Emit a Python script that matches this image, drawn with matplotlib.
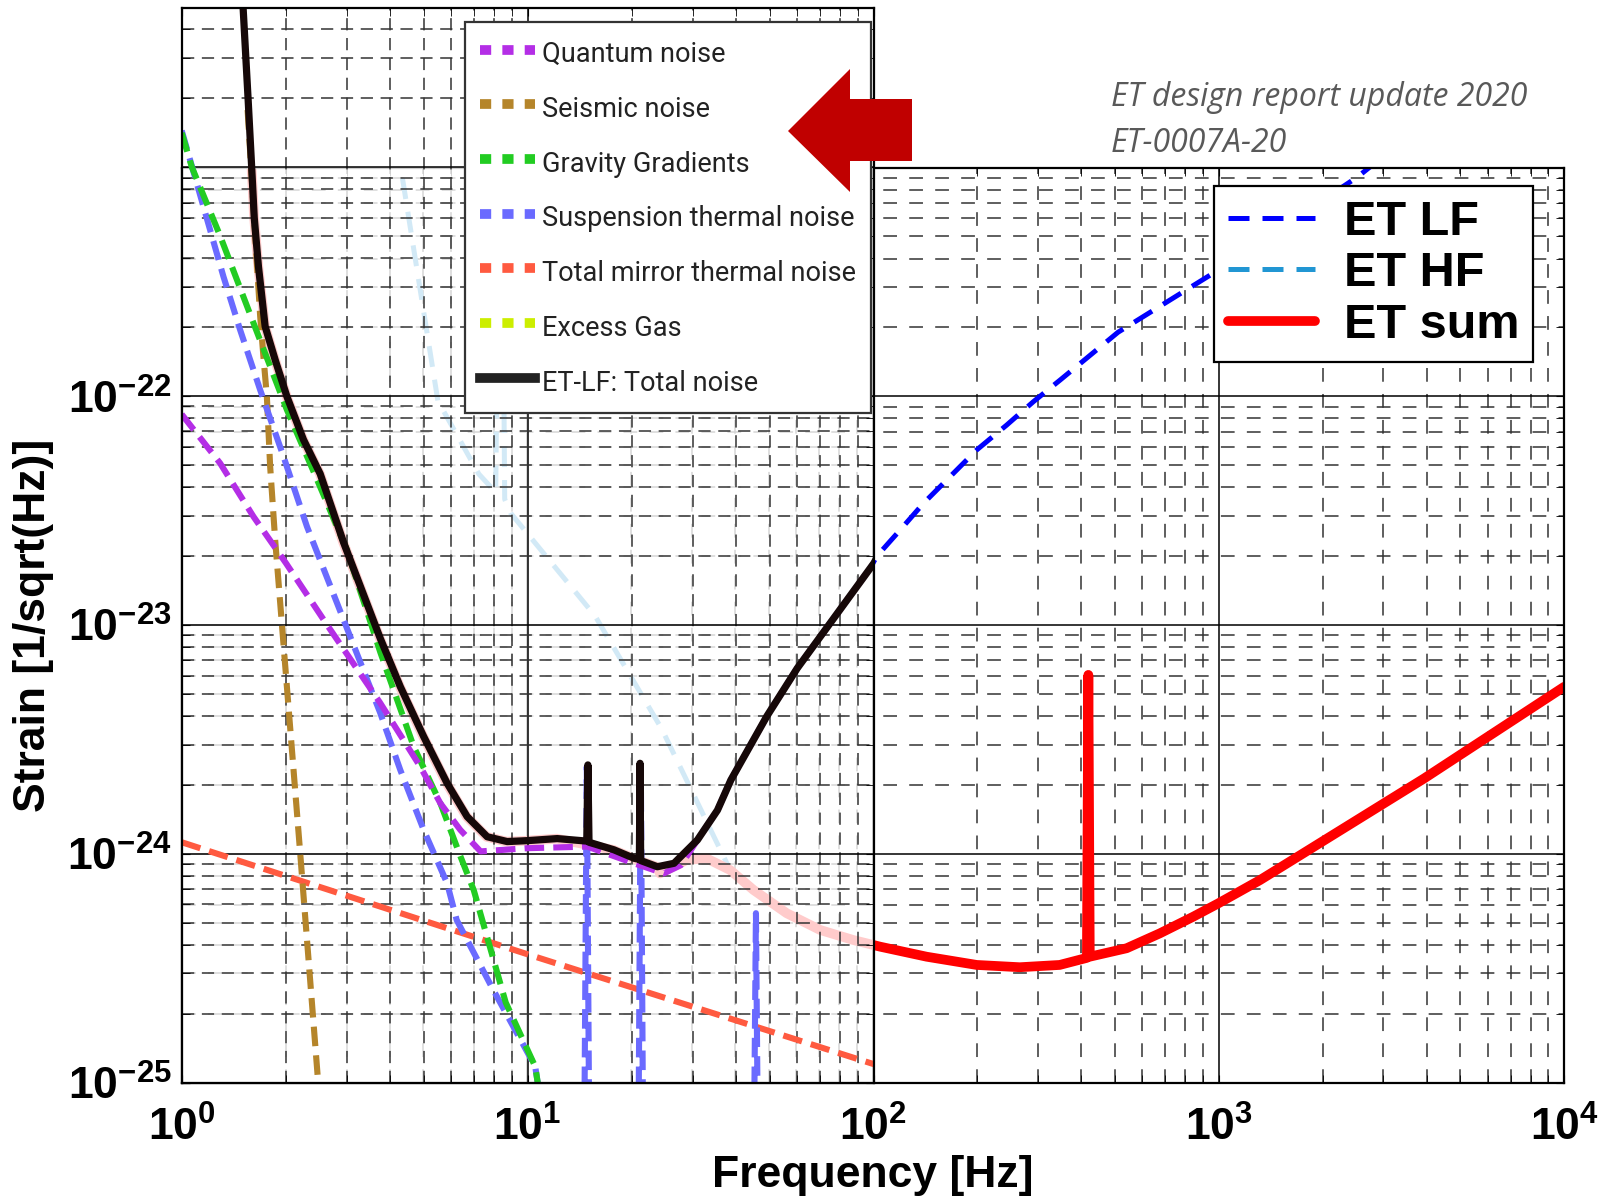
import matplotlib
matplotlib.use('Agg')
import matplotlib.pyplot as plt
from matplotlib.lines import Line2D
from matplotlib.patches import Polygon
from matplotlib.ticker import NullFormatter

plt.rcParams['font.family'] = ['Liberation Sans', 'DejaVu Sans']
plt.rcParams['mathtext.fontset'] = 'custom'
plt.rcParams['mathtext.rm'] = 'Liberation Sans'
plt.rcParams['mathtext.bf'] = 'Liberation Sans:bold'

# --- ET-LF noise budget (left panel), strain given as log10 values ---
quantum_f = [1, 1.29, 1.612, 2.0, 2.63, 3.74, 4.89, 5.59, 6.38, 7.3, 9.96, 14.85, 20.26, 24.7,
             27.7, 30.9, 35.3, 38.6, 49, 60, 100]
quantum_h = [-22.08, -22.293, -22.527, -22.73, -23.0, -23.34, -23.62, -23.78, -23.896, -23.99,
             -23.976, -23.969, -24.042, -24.086, -24.05, -23.94, -23.81, -23.678, -23.40, -23.19,
             -22.73]

seismic_f = [1.55, 1.685, 1.722, 1.762, 1.801, 1.862, 2.2, 2.47, 2.55]
seismic_h = [-20.75, -21.65, -21.827, -22.002, -22.308, -22.629, -24.0, -24.97, -25.3]

gravity_f = [1, 1.07, 1.291, 1.612, 2.013, 2.51, 3.0, 3.748, 4.68, 5.59, 6.38, 6.98, 8.63, 10.5, 11.2]
gravity_h = [-20.85, -21.0, -21.30, -21.681, -22.06, -22.396, -22.672, -23.12, -23.532, -23.78,
             -24.01, -24.16, -24.65, -24.93, -25.2]

susp_f = [1, 1.32, 1.475, 1.685, 1.968, 2.30, 3.748, 4.28, 5.0, 5.844, 6.23, 7.91, 10.5, 11.2,
          14.5, 14.8, 15.1, 20.8, 21.2, 21.6, 44.8, 45.6, 46.4]
susp_h = [-20.84, -21.478, -21.711, -21.973, -22.264, -22.57, -23.386, -23.634, -23.896, -24.129,
          -24.29, -24.59, -24.93, -25.2, -25.6, -23.62, -25.6, -25.6, -23.62, -25.6, -25.6, -24.26, -25.6]

mirror_f = [1, 10, 100]
mirror_h = [-23.95, -24.44, -24.92]

# --- ET LF / ET HF / ET sum (underlying comparison chart) ---
lf_f = [1.47, 1.504, 1.555, 1.594, 1.62, 1.666, 1.742, 1.862, 2.013, 2.248, 2.512, 2.935, 3.748,
        4.28, 5.0, 5.844, 6.677, 7.63, 8.716, 9.96, 12.16, 14.8, 14.91, 15.02, 17.73, 20.26, 21.0,
        21.09, 21.18, 23.67, 26.44, 30.9, 35.3, 38.6, 49, 60, 100, 102.5, 119.8, 140, 163.5, 199.5,
        243.7, 291, 348, 512, 970, 2530, 3000]
lf_h = [-20.10, -20.30, -20.70, -21.011, -21.22, -21.434, -21.696, -21.842, -22.002, -22.191,
        -22.34, -22.64, -23.06, -23.27, -23.488, -23.692, -23.838, -23.926, -23.947, -23.943,
        -23.934, -23.945, -23.612, -23.95, -23.983, -24.02, -24.025, -23.605, -24.03, -24.057,
        -24.042, -23.94, -23.81, -23.678, -23.40, -23.19, -22.73, -22.70, -22.585, -22.468, -22.366,
        -22.235, -22.126, -22.024, -21.929, -21.72, -21.46, -21.04, -20.95]

hf_f = [4.2, 5.51, 7.24, 8.1, 8.3, 8.45, 8.6, 8.94, 15.7, 24.5, 38.3, 45.1, 56.3, 70.3, 87.7,
        104.8, 143, 199.6, 266, 347, 542, 676, 845, 998, 1318, 1758, 3940, 10000]
hf_h = [-20.9, -22.02, -22.34, -22.42, -20.9, -20.9, -22.45, -22.51, -22.96, -23.455, -24.06,
        -24.158, -24.26, -24.333, -24.377, -24.406, -24.45, -24.486, -24.496, -24.486, -24.413,
        -24.348, -24.275, -24.217, -24.115, -23.998, -23.67, -23.27]

sum_f = [1.47, 1.555, 1.594, 1.62, 1.666, 1.742, 1.862, 2.013, 2.248, 2.512, 2.935, 3.748, 4.28,
         5.0, 5.844, 6.677, 7.63, 8.716, 9.96, 12.16, 17.73, 20.26, 23.67, 24.2, 28.9, 33.0, 38.6,
         45.1, 56.3, 70.3, 87.7, 104.8, 143, 199.6, 266, 347, 416, 420, 424, 542, 676, 845, 998,
         1318, 1758, 3940, 10000]
sum_h = [-20.10, -20.70, -21.011, -21.22, -21.434, -21.696, -21.842, -22.002, -22.191, -22.34,
         -22.64, -23.06, -23.27, -23.488, -23.692, -23.838, -23.926, -23.947, -23.943, -23.934,
         -23.983, -24.02, -24.057, -24.086, -24.027, -24.02, -24.071, -24.158, -24.26, -24.333,
         -24.377, -24.406, -24.45, -24.486, -24.496, -24.486, -24.455, -23.218, -24.45, -24.413,
         -24.348, -24.275, -24.217, -24.115, -23.998, -23.67, -23.27]

x_ticks = [1, 10, 100, 1000, 10000]
x_labels = [r'$\mathbf{10^{%d}}$' % i for i in range(5)]
y_ticks = [1e-25, 1e-24, 1e-23, 1e-22]
y_labels = [r'$\mathbf{10^{-%d}}$' % i for i in (25, 24, 23, 22)]


def lin(h):
    return [10.0 ** v for v in h]


fig = plt.figure(figsize=(16.01, 12), dpi=100)
ax_r = fig.add_axes([0.1135, 0.0979, 0.8635, 0.7625])
ax_l = fig.add_axes([0.1135, 0.0979, 0.4324, 0.8953])

for ax, dash in ((ax_r, (0, (9, 8))), (ax_l, (0, (8, 5)))):
    ax.set_xscale('log')
    ax.set_yscale('log')
    ax.grid(True, which='major', color='k', lw=1.1, ls='-')
    ax.grid(True, which='minor', color='#333333', lw=1.1, ls=dash)
    ax.tick_params(which='both', direction='in', top=True, right=True, length=6)
    for s in ax.spines.values():
        s.set_linewidth(1.6)

# right chart
lf_dash = (0, (4.2, 2.6))
ax_r.set_xlim(1, 1e4)
ax_r.set_ylim(1e-25, 1e-21)
ax_r.plot(hf_f, lin(hf_h), color='#2196d3', lw=3.6, ls=lf_dash, label='ET HF')
ax_r.plot(sum_f, lin(sum_h), color='#ff0000', lw=7, solid_capstyle='round', label='ET sum')
ax_r.plot(lf_f, lin(lf_h), color='#0000ff', lw=3.6, ls=lf_dash, label='ET LF')
ax_r.set_xticks(x_ticks, x_labels)
ax_r.set_yticks(y_ticks, y_labels)
ax_r.xaxis.set_minor_formatter(NullFormatter())
ax_r.yaxis.set_minor_formatter(NullFormatter())
ax_r.tick_params(axis='both', which='major', labelsize=32)
ax_r.tick_params(axis='x', which='major', pad=17)
ax_r.tick_params(axis='y', which='major', pad=7)
ax_r.set_xlabel('Frequency [Hz]', fontsize=32, fontweight='bold', labelpad=4)
ax_r.set_ylabel('Strain [1/sqrt(Hz)]', fontsize=32, fontweight='bold', labelpad=10)
h_r, l_r = ax_r.get_legend_handles_labels()
order = [2, 0, 1]
leg_r = ax_r.legend([h_r[i] for i in order], [l_r[i] for i in order],
                    loc='upper left', bbox_to_anchor=(1214 / 1601, 1 - 186 / 1200),
                    bbox_transform=fig.transFigure, borderaxespad=0,
                    prop={'size': 35, 'weight': 'bold'}, handlelength=1.8,
                    handletextpad=0.6, labelspacing=0.14, borderpad=0.28,
                    fancybox=False, framealpha=1, edgecolor='k')
leg_r.get_frame().set_linewidth(1.6)

# left panel (semi-transparent, on top)
ax_l.patch.set_facecolor((1, 1, 1, 0.8))
ax_l.set_xlim(1, 100)
ax_l.set_ylim(1e-25, 10 ** -20.305)
ax_l.tick_params(which='both', labelbottom=False, labelleft=False)
dash_l = (0, (3.2, 1.5))
lw_l = 4.4
ax_l.plot(mirror_f, lin(mirror_h), color='#ff5a40', lw=lw_l, ls=dash_l)
ax_l.plot(seismic_f, lin(seismic_h), color='#b5852a', lw=lw_l, ls=dash_l)
ax_l.plot(susp_f, lin(susp_h), color='#6a6aff', lw=lw_l, ls=dash_l)
ax_l.plot(gravity_f, lin(gravity_h), color='#22cc22', lw=lw_l, ls=dash_l)
ax_l.plot(quantum_f, lin(quantum_h), color='#b42ee6', lw=lw_l, ls=dash_l)
ax_l.plot(lf_f, lin(lf_h), color='#160808', lw=5.2, solid_capstyle='round')

dot = (0, (1.15, 1.15))
proxies = [Line2D([], [], color='#b42ee6', lw=7, ls=dot),
           Line2D([], [], color='#b5852a', lw=7, ls=dot),
           Line2D([], [], color='#22cc22', lw=7, ls=dot),
           Line2D([], [], color='#6a6aff', lw=7, ls=dot),
           Line2D([], [], color='#ff5a40', lw=7, ls=dot),
           Line2D([], [], color='#ccee00', lw=7, ls=dot),
           Line2D([], [], color='#222222', lw=7)]
names = ['Quantum noise', 'Seismic noise', 'Gravity Gradients', 'Suspension thermal noise',
         'Total mirror thermal noise', 'Excess Gas', 'ET-LF: Total noise']
leg_l = ax_l.legend(proxies, names, loc='upper left',
                    bbox_to_anchor=(465 / 1601, 1 - 22 / 1200), bbox_transform=fig.transFigure,
                    borderaxespad=0, prop={'family': ['Roboto', 'DejaVu Sans'], 'size': 19.5},
                    handlelength=2.05, handleheight=1.5, handletextpad=0.25,
                    labelspacing=0.8, borderpad=0.55,
                    fancybox=False, framealpha=1, edgecolor='#333333')
leg_l.get_frame().set_linewidth(1.6)
for t in leg_l.get_texts():
    t.set_color('#222222')

# big red arrow and source note
arrow_x = [788, 850, 850, 912, 912, 850, 850]
arrow_y = [131, 69, 99, 99, 161, 161, 192]
fig.patches.append(Polygon([(x / 1601, 1 - y / 1200) for x, y in zip(arrow_x, arrow_y)],
                           closed=True, transform=fig.transFigure, facecolor='#c00000',
                           edgecolor='none', zorder=5))
fig.text(1111 / 1601, 1 - 97 / 1200, 'ET design report update 2020', fontsize=23,
         family='Open Sans', style='italic', color='#595959', va='center')
fig.text(1111 / 1601, 1 - 143 / 1200, 'ET-0007A-20', fontsize=23,
         family='Open Sans', style='italic', color='#595959', va='center')

fig.savefig('out.png', dpi=100)
